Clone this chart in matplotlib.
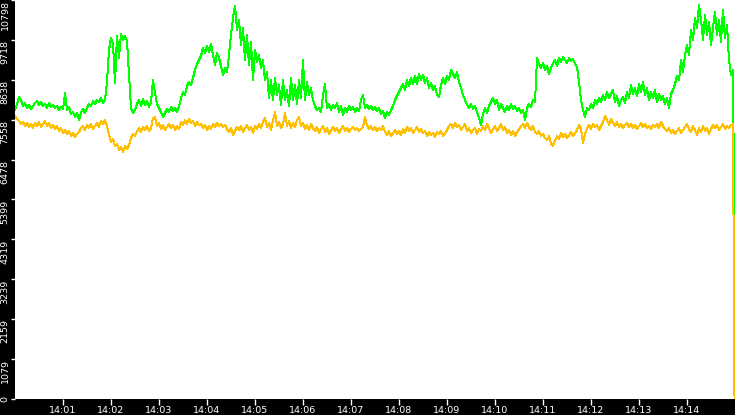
import numpy as np
import matplotlib
matplotlib.use("Agg")
import matplotlib.pyplot as plt

# time in seconds after 14:00:00 (one sample every 2.5 s, plus the last reading)
seconds = list(np.arange(0, 900, 2.5)) + [899.4]

green_values = [
    7819, 7982, 8171, 8090, 7927, 8009, 7873, 7955, 7846, 7927,
    8009, 8063, 7955, 8036, 7927, 7982, 7873, 8009, 7900, 7955,
    7873, 7927, 7819, 7900, 7846, 8280, 7819, 7900, 7711, 7765,
    7629, 7738, 7548, 7765, 7846, 7738, 7873, 7982, 7927, 8063,
    7982, 8090, 8036, 8144, 8009, 8090, 8578, 9445, 9770, 9608,
    8551, 9824, 9228, 9879, 9716, 9824, 9689, 8768, 7873, 7738,
    7819, 7982, 8090, 7927, 8117, 7955, 8063, 7900, 8036, 8632,
    8307, 7982, 7873, 7765, 7629, 7738, 7846, 7765, 7900, 7792,
    7873, 7765, 7927, 8144, 8307, 8226, 8469, 8578, 8497, 8686,
    8903, 9066, 9174, 9282, 9499, 9364, 9553, 9391, 9608, 9310,
    9039, 9364, 9228, 9011, 8768, 8957, 8849, 9310, 9852, 10312,
    10637, 9987, 10258, 9581, 10041, 9174, 9852, 9039, 9662, 8632,
    9445, 9120, 9310, 8957, 9174, 8632, 8849, 8144, 8632, 8090,
    8686, 8226, 8497, 7955, 8632, 8090, 8361, 7927, 8686, 8090,
    8497, 7982, 8632, 8144, 9174, 8090, 8578, 8226, 8415, 8090,
    7927, 7819, 7873, 7765, 8226, 8524, 7873, 7982, 7819, 7955,
    7873, 8009, 7765, 7927, 7684, 7873, 7765, 7927, 7819, 7900,
    7765, 7873, 7792, 8090, 8226, 7873, 7955, 7846, 7927, 7819,
    7900, 7792, 7873, 7711, 7792, 7602, 7765, 7684, 7819, 7927,
    8090, 8198, 8307, 8415, 8524, 8361, 8632, 8469, 8686, 8524,
    8740, 8524, 8795, 8632, 8768, 8551, 8686, 8415, 8551, 8361,
    8469, 8226, 8171, 8497, 8686, 8524, 8740, 8632, 8903, 8795,
    8686, 8849, 8578, 8415, 8226, 8090, 7955, 7873, 7982, 7846,
    7927, 7765, 7602, 7413, 7711, 7873, 7738, 7927, 8036, 8144,
    7982, 8090, 7819, 7982, 7873, 7765, 7927, 7819, 7982, 7846,
    7927, 7792, 7873, 7738, 7819, 7548, 7873, 7982, 7900, 8090,
    8036, 9228, 9066, 8957, 9093, 8903, 9011, 8795, 8957, 9093,
    9174, 9011, 9228, 9120, 9255, 9174, 9093, 9228, 9147, 9201,
    9066, 8984, 8578, 8090, 7819, 7629, 7873, 7819, 7982, 7873,
    8090, 7982, 8144, 8036, 8226, 8090, 8307, 8144, 8253, 8361,
    8036, 8198, 7927, 8090, 8171, 8009, 8307, 8144, 8497, 8253,
    8415, 8198, 8524, 8307, 8578, 8226, 8415, 8090, 8307, 8144,
    8361, 8036, 8253, 8090, 8198, 7982, 8144, 7873, 8253, 8361,
    8524, 8740, 8632, 9174, 8849, 9310, 9581, 9310, 9987, 9716,
    10312, 10041, 10664, 10258, 9716, 10394, 9852, 10204, 9581, 10041,
    10475, 9852, 10258, 9662, 10529, 9770, 10123, 9174, 8768, 8903,
    3750,
]

yellow_values = [
    7656, 7575, 7521, 7440, 7494, 7385, 7467, 7358, 7440, 7331,
    7467, 7385, 7494, 7358, 7440, 7521, 7385, 7467, 7331, 7413,
    7304, 7385, 7250, 7331, 7196, 7277, 7169, 7250, 7114, 7196,
    7087, 7169, 7223, 7331, 7385, 7277, 7413, 7331, 7440, 7304,
    7385, 7467, 7358, 7521, 7440, 7548, 7385, 7142, 6952, 7033,
    6843, 6898, 6735, 6816, 6681, 6843, 6762, 6871, 7060, 7169,
    7114, 7250, 7331, 7223, 7358, 7277, 7385, 7250, 7331, 7602,
    7629, 7385, 7467, 7304, 7413, 7277, 7358, 7440, 7331, 7413,
    7277, 7385, 7304, 7494, 7413, 7548, 7440, 7575, 7467, 7521,
    7385, 7494, 7413, 7440, 7331, 7413, 7277, 7385, 7304, 7440,
    7358, 7467, 7385, 7440, 7358, 7413, 7304, 7223, 7331, 7142,
    7250, 7358, 7277, 7385, 7223, 7331, 7413, 7277, 7358, 7196,
    7385, 7304, 7440, 7331, 7494, 7602, 7358, 7467, 7277, 7548,
    7765, 7385, 7494, 7331, 7440, 7738, 7385, 7521, 7331, 7467,
    7358, 7548, 7629, 7385, 7467, 7304, 7413, 7277, 7440, 7331,
    7250, 7358, 7196, 7304, 7385, 7223, 7331, 7169, 7277, 7358,
    7250, 7331, 7196, 7304, 7385, 7250, 7331, 7223, 7304, 7358,
    7277, 7331, 7250, 7304, 7358, 7629, 7413, 7304, 7385, 7277,
    7358, 7250, 7331, 7277, 7385, 7223, 7142, 7250, 7114, 7196,
    7277, 7169, 7250, 7142, 7304, 7196, 7358, 7250, 7331, 7196,
    7277, 7358, 7223, 7304, 7196, 7250, 7114, 7223, 7142, 7196,
    7087, 7223, 7169, 7250, 7114, 7196, 7277, 7385, 7440, 7331,
    7467, 7358, 7413, 7277, 7358, 7440, 7250, 7331, 7196, 7277,
    7331, 7169, 7304, 7250, 7385, 7277, 7440, 7331, 7196, 7304,
    7385, 7250, 7331, 7440, 7277, 7358, 7196, 7277, 7142, 7250,
    7114, 7223, 7304, 7385, 7440, 7331, 7467, 7358, 7277, 7385,
    7223, 7169, 7250, 7114, 7169, 7060, 7006, 7114, 6925, 6843,
    7006, 7114, 7033, 7196, 7087, 7169, 7060, 7142, 7223, 7114,
    7196, 7277, 7413, 7304, 6925, 7169, 7331, 7413, 7304, 7440,
    7358, 7413, 7277, 7385, 7494, 7656, 7548, 7413, 7575, 7467,
    7385, 7494, 7358, 7440, 7331, 7413, 7467, 7358, 7440, 7331,
    7413, 7304, 7385, 7467, 7358, 7440, 7331, 7385, 7304, 7413,
    7358, 7440, 7331, 7494, 7385, 7304, 7250, 7331, 7196, 7277,
    7169, 7250, 7331, 7196, 7277, 7358, 7440, 7304, 7223, 7385,
    7277, 7142, 7331, 7223, 7385, 7250, 7331, 7169, 7304, 7413,
    7331, 7413, 7277, 7358, 7440, 7304, 7385, 7331, 7413, 7440,
    0,
]

ytick_labels = ["0", "1079", "2159", "3239", "4319", "5399",
                "6478", "7558", "8638", "9718", "10798"]
y_max = 10798
xtick_seconds = [60 * m for m in range(1, 15)]
xtick_labels = ["14:01", "14:02", "14:03", "14:04", "14:05", "14:06", "14:07",
                "14:08", "14:09", "14:10", "14:11", "14:12", "14:13", "14:14"]

W, H = 735, 415
fig = plt.figure(figsize=(W / 100, H / 100), dpi=100, facecolor="black")
ax = fig.add_axes([15 / W, 16 / H, 720 / W, 399 / H])
ax.set_facecolor("white")

ax.plot(seconds, green_values, color="#00ff00", lw=0.72, antialiased=False, zorder=2)
ax.plot(seconds, yellow_values, color="#ffc000", lw=0.72, antialiased=False, zorder=3)

ax.set_xlim(0, 900)
ax.set_ylim(0, y_max)

for s in ax.spines.values():
    s.set_visible(False)

ax.set_xticks(xtick_seconds)
ax.set_xticklabels(xtick_labels)
yticks = np.linspace(0, y_max, len(ytick_labels))
ax.set_yticks(yticks)
ax.set_yticklabels(ytick_labels, rotation=90)

ax.tick_params(axis="x", colors="white", direction="out", length=4, width=1,
               pad=1, labelsize=6.8)
ax.tick_params(axis="y", colors="white", direction="out", length=3, width=1,
               pad=1, labelsize=6.8)

ylabels = ax.get_yticklabels()
for t in ylabels:
    t.set_va("top")
ylabels[0].set_va("center")

fig.savefig("out.png", dpi=100, facecolor="black")
